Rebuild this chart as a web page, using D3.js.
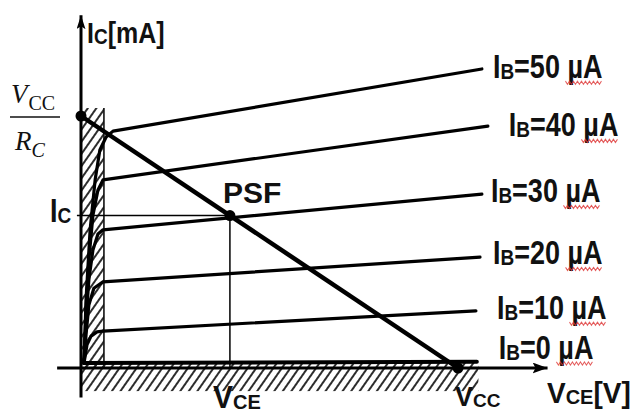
<!DOCTYPE html>
<html>
<head>
<meta charset="utf-8">
<script src="https://cdn.jsdelivr.net/npm/d3@7"></script>
<style>
body { margin: 0; background: #fff; }
svg { display: block; }
</style>
</head>
<body>
<div id="graphic"></div>
<script>
// base current of each curve, uA
var ibValues = [50, 40, 30, 20, 10, 0];

// output characteristics: VCE [V] and IC [mA]
var vce50 = [0.10, 0.16, 0.29, 0.45, 0.60, 0.80, 1.02, 12.76];
var ic50  = [0.19, 1.62, 3.29, 4.48, 5.19, 5.50, 5.64, 7.12];
var vce40 = [0.10, 0.16, 0.25, 0.38, 0.54, 0.70, 12.95];
var ic40  = [0.19, 1.38, 2.57, 3.64, 4.24, 4.48, 5.76];
var vce30 = [0.10, 0.16, 0.25, 0.38, 0.54, 0.70, 12.76];
var ic30  = [0.14, 1.14, 2.10, 2.81, 3.19, 3.29, 4.14];
var vce20 = [0.10, 0.16, 0.25, 0.41, 0.70, 12.70];
var ic20  = [0.14, 0.79, 1.50, 1.90, 2.05, 2.64];
var vce10 = [0.10, 0.19, 0.32, 0.51, 0.70, 12.57];
var ic10  = [0.14, 0.55, 0.76, 0.86, 0.88, 1.36];
var vce0  = [0.08, 12.60];
var ic0   = [0.12, 0.15];

// load line and working point
var vcc = 12;          // V
var icMax = 6;         // VCC / RC, mA
var psfVce = 4.74;
var psfIc = 3.63;

// shaded regions (saturation and cut-off)
var satVce = [0.03, 0.73];
var satIc  = [0, 6.19];
var cutVce = [0.03, 12.65];
var cutIc  = [-0.55, 0.15];

var vceSeries = [vce50, vce40, vce30, vce20, vce10, vce0];
var icSeries  = [ic50, ic40, ic30, ic20, ic10, ic0];

var width = 640, height = 414;

var x = d3.scaleLinear().domain([0, vcc]).range([81, 458]);
var y = d3.scaleLinear().domain([0, icMax]).range([368, 116]);

var svg = d3.select("#graphic").append("svg")
        .attr("width", width)
        .attr("height", height)
        .style("background", "#fff");

var defs = svg.append("defs");

defs.append("pattern")
        .attr("id", "hatch")
        .attr("patternUnits", "userSpaceOnUse")
        .attr("width", 7)
        .attr("height", 7)
        .attr("patternTransform", "rotate(35)")
    .append("line")
        .attr("x1", 1).attr("y1", 0)
        .attr("x2", 1).attr("y2", 7)
        .style("stroke", "#222")
        .style("stroke-width", 1.9);

function arrowMarker(id, w, h) {
    defs.append("marker")
        .attr("id", id)
        .attr("viewBox", "0 0 " + w + " " + h)
        .attr("refX", w).attr("refY", h / 2)
        .attr("markerWidth", w).attr("markerHeight", h)
        .attr("markerUnits", "userSpaceOnUse")
        .attr("orient", "auto")
      .append("path")
        .attr("d", "M0,0L" + w + "," + (h / 2) + "L0," + h + "L3," + (h / 2) + "Z")
        .style("fill", "#000");
}
arrowMarker("arrowY", 14, 9);
arrowMarker("arrowX", 15, 11);

// hatched regions
svg.append("rect")
        .attr("x", x(satVce[0]))
        .attr("y", y(satIc[1]))
        .attr("width", x(satVce[1]) - x(satVce[0]))
        .attr("height", y(satIc[0]) - y(satIc[1]))
        .style("fill", "url(#hatch)");

svg.append("line")
        .attr("x1", x(satVce[1])).attr("y1", y(satIc[1]))
        .attr("x2", x(satVce[1])).attr("y2", y(0))
        .style("stroke", "#111")
        .style("stroke-width", 1.6);

svg.append("rect")
        .attr("x", x(cutVce[0]))
        .attr("y", y(cutIc[1]))
        .attr("width", x(cutVce[1]) - x(cutVce[0]))
        .attr("height", y(cutIc[0]) - y(cutIc[1]))
        .style("fill", "url(#hatch)");

// axes
svg.append("line")
        .attr("x1", x(0)).attr("y1", y(-0.7))
        .attr("x2", x(0)).attr("y2", y(8.4))
        .style("stroke", "#000")
        .style("stroke-width", 3)
        .attr("marker-end", "url(#arrowY)");

svg.append("line")
        .attr("x1", x(-0.76)).attr("y1", y(0))
        .attr("x2", x(14.85)).attr("y2", y(0))
        .style("stroke", "#000")
        .style("stroke-width", 3.2)
        .attr("marker-end", "url(#arrowX)");

// characteristic curves
var line = d3.line()
        .x(function(d) { return x(d[0]); })
        .y(function(d) { return y(d[1]); });

var curves = ibValues.map(function(ib, i) {
    return { ib: ib, pts: vceSeries[i].map(function(v, j) { return [v, icSeries[i][j]]; }) };
});

svg.append("g").selectAll("path")
        .data(curves)
        .join("path")
        .attr("d", function(d) { return line(d.pts); })
        .style("fill", "none")
        .style("stroke", "#000")
        .style("stroke-width", function(d) { return d.ib === 0 ? 4 : 3.2; })
        .style("stroke-linecap", "round")
        .style("stroke-linejoin", "round");

// guide lines to the working point
svg.append("line")
        .attr("x1", x(-0.13)).attr("y1", y(psfIc))
        .attr("x2", x(psfVce)).attr("y2", y(psfIc))
        .style("stroke", "#000").style("stroke-width", 1.5);

svg.append("line")
        .attr("x1", x(psfVce)).attr("y1", y(psfIc))
        .attr("x2", x(psfVce)).attr("y2", y(0))
        .style("stroke", "#000").style("stroke-width", 1.5);

// load line
svg.append("line")
        .attr("x1", x(0)).attr("y1", y(icMax))
        .attr("x2", x(vcc)).attr("y2", y(0))
        .style("stroke", "#000")
        .style("stroke-width", 4.5);

svg.append("g").selectAll("circle")
        .data([[0, icMax], [psfVce, psfIc], [vcc, 0]])
        .join("circle")
        .attr("cx", function(d) { return x(d[0]); })
        .attr("cy", function(d) { return y(d[1]); })
        .attr("r", 5.5)
        .style("fill", "#000");

// labels
var sans = "'Liberation Sans', Arial, sans-serif";
var serif = "'Liberation Serif', 'Times New Roman', serif";

function label(px, py, parts, size, sy) {
    var g = svg.append("g")
            .attr("transform", "translate(" + px + "," + py + ") scale(1," + sy + ")");
    var t = g.append("text")
            .style("font-family", sans)
            .style("font-weight", "bold")
            .style("font-size", size + "px")
            .style("fill", "#111");
    parts.forEach(function(p) {
        var s = t.append("tspan").text(p[0]);
        if (p[1]) s.style("font-size", p[1] + "px");
        if (p[2]) s.attr("dy", p[2]);
    });
    return g;
}

function squiggle(g, x0, x1, yy) {
    var pts = [];
    for (var k = 0; x0 + k * 2 <= x1; k++) pts.push([x0 + k * 2, yy + (k % 2 ? 1.3 : -1.3)]);
    g.append("path")
        .attr("d", d3.line()(pts))
        .style("fill", "none")
        .style("stroke", "#d33")
        .style("stroke-width", 1)
        .style("opacity", 0.8);
}

// label offsets from the end of each curve
var labelDx = [13, 23, 11, 15, 23, 24];
var labelDy = [10, 11, 9, 8, 9, -2];

curves.forEach(function(c, i) {
    var end = c.pts[c.pts.length - 1];
    var g = label(x(end[0]) + labelDx[i] - 2, y(end[1]) + labelDy[i] - 1,
            [["I"], ["B", 19, 1], ["=" + c.ib + " ", null, -1], ["\u00b5A"]], 27, 1.2);
    var bb = g.select("text").node().getBBox();
    squiggle(g, bb.x + bb.width - 37, bb.x + bb.width, 4);
});

label(87, 43, [["I"], ["C", 19, 1], ["[mA]", null, -1]], 25, 1.2);
label(50, 222, [["I"], ["C", 19, 1]], 27, 1.2);
label(223, 203, [["PSF"]], 30, 1);
label(213, 408, [["V"], ["CE", 20, 1]], 30, 1.05);
label(455, 406, [["V"], ["CC", 19, 1]], 27, 1);
label(547, 403, [["V"], ["CE", 20, 1], ["[V]", null, -1]], 28, 1.05);

// VCC / RC fraction
var frac = svg.append("g")
        .style("font-family", serif)
        .style("fill", "#111");
frac.append("text")
        .attr("x", 11).attr("y", 103)
        .style("font-size", "27px")
        .style("font-style", "italic")
        .text("V")
    .append("tspan")
        .attr("dy", 7)
        .attr("dx", 1)
        .style("font-size", "20px")
        .style("font-style", "normal")
        .text("CC");
frac.append("line")
        .attr("x1", 10).attr("x2", 60)
        .attr("y1", 117).attr("y2", 117)
        .style("stroke", "#111")
        .style("stroke-width", 1.6);
frac.append("text")
        .attr("x", 15).attr("y", 150)
        .style("font-size", "27px")
        .style("font-style", "italic")
        .text("R")
    .append("tspan")
        .attr("dy", 7)
        .style("font-size", "20px")
        .text("C");
</script>
</body>
</html>
